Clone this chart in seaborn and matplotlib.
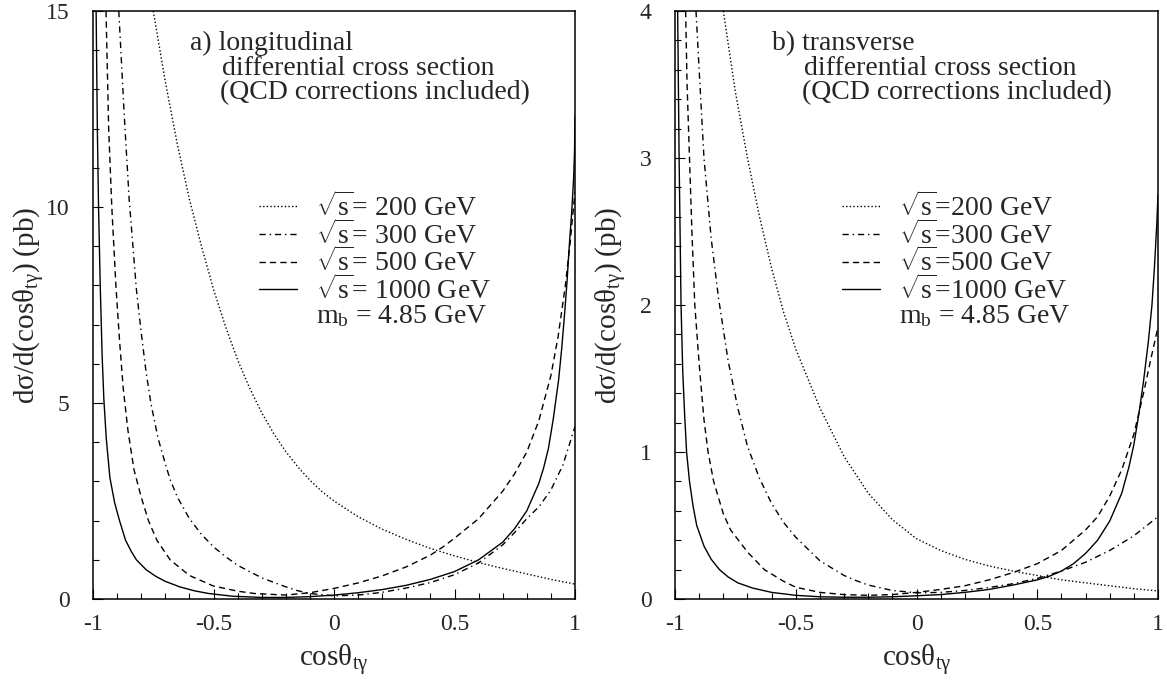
import numpy as np
import pandas as pd
import matplotlib
matplotlib.use("Agg")
import matplotlib.pyplot as plt
from matplotlib.ticker import MultipleLocator, FuncFormatter
from matplotlib.lines import Line2D
import seaborn as sns

sns.set_style("white")
plt.rcParams["font.family"] = ["Liberation Serif", "DejaVu Serif"]
plt.rcParams["mathtext.fontset"] = "custom"
plt.rcParams["mathtext.rm"] = "Liberation Serif"
plt.rcParams["mathtext.it"] = "Liberation Serif:italic"
plt.rcParams["mathtext.default"] = "rm"
plt.rcParams["axes.unicode_minus"] = False

# ---------------- data: panel a) longitudinal ----------------
a200_x = [-0.75, -0.7, -0.65, -0.6, -0.55, -0.5, -0.45, -0.4, -0.35, -0.3, -0.25, -0.2,
          -0.15, -0.1, -0.05, 0.0, 0.1, 0.2, 0.3, 0.4, 0.5, 0.6, 0.7, 0.8, 0.9, 1.0]
a200_y = [15.0, 13.2, 11.6, 10.2, 9.0, 7.9, 6.95, 6.1, 5.38, 4.75, 4.22, 3.76,
          3.37, 3.03, 2.74, 2.5, 2.1, 1.78, 1.52, 1.29, 1.1, 0.93, 0.78, 0.64, 0.5, 0.38]

a300_x = [-0.893, -0.87, -0.85, -0.82, -0.8, -0.78, -0.76, -0.73, -0.7, -0.68, -0.65, -0.6,
          -0.55, -0.5, -0.45, -0.4, -0.3, -0.2, -0.15, -0.1, 0.0, 0.1, 0.2, 0.3, 0.4, 0.5,
          0.6, 0.7, 0.75, 0.8, 0.85, 0.9, 0.95, 1.0]
a300_y = [15.0, 12.3, 10.2, 7.9, 6.8, 5.8, 5.0, 4.1, 3.45, 3.05, 2.6, 2.05,
          1.65, 1.33, 1.08, 0.86, 0.54, 0.31, 0.21, 0.14, 0.08, 0.1, 0.17, 0.28, 0.42, 0.62,
          0.92, 1.38, 1.7, 2.05, 2.35, 2.78, 3.42, 4.4]

a500_x = [-0.946, -0.935, -0.922, -0.905, -0.89, -0.875, -0.855, -0.83, -0.8, -0.77, -0.735,
          -0.68, -0.6, -0.5, -0.4, -0.33, -0.2, -0.1, 0.0, 0.1, 0.2, 0.3, 0.4, 0.45, 0.5, 0.6,
          0.7, 0.75, 0.8, 0.85, 0.9, 0.93, 0.96, 0.98, 1.0]
a500_y = [15.0, 12.0, 10.0, 8.0, 6.6, 5.4, 4.3, 3.3, 2.6, 2.0, 1.5,
          1.0, 0.6, 0.33, 0.2, 0.14, 0.1, 0.16, 0.27, 0.41, 0.59, 0.82, 1.12, 1.32, 1.55, 2.05,
          2.75, 3.2, 3.75, 4.55, 5.7, 6.7, 8.0, 9.1, 10.4]

a1000_x = [-0.987, -0.982, -0.977, -0.97, -0.962, -0.955, -0.945, -0.93, -0.91, -0.89, -0.865,
           -0.84, -0.82, -0.78, -0.74, -0.7, -0.64, -0.58, -0.52, -0.42, -0.3, -0.2, -0.1, 0.0,
           0.1, 0.2, 0.3, 0.4, 0.5, 0.6, 0.7, 0.75, 0.8, 0.85, 0.87, 0.89, 0.91, 0.932, 0.945,
           0.957, 0.967, 0.976, 0.986, 0.994, 0.998, 1.0]
a1000_y = [15.0, 12.0, 10.0, 8.0, 6.2, 5.1, 4.1, 3.1, 2.45, 2.0, 1.5,
           1.2, 1.0, 0.75, 0.58, 0.45, 0.31, 0.21, 0.14, 0.07, 0.04, 0.04, 0.06, 0.1,
           0.16, 0.24, 0.35, 0.5, 0.7, 1.0, 1.45, 1.8, 2.25, 2.95, 3.35, 3.85, 4.6, 5.59, 6.4,
           7.29, 8.1, 8.99, 9.85, 10.69, 11.4, 12.3]

# ---------------- data: panel b) transverse ----------------
b200_x = [-0.8, -0.75, -0.7, -0.65, -0.6, -0.55, -0.5, -0.4, -0.3, -0.2, -0.1, 0.0,
          0.1, 0.2, 0.3, 0.4, 0.5, 0.6, 0.7, 0.8, 0.9, 1.0]
b200_y = [4.0, 3.45, 3.0, 2.6, 2.25, 1.95, 1.7, 1.3, 0.97, 0.72, 0.54, 0.41,
          0.33, 0.27, 0.225, 0.19, 0.16, 0.13, 0.11, 0.09, 0.07, 0.055]

b300_x = [-0.913, -0.9, -0.88, -0.85, -0.82, -0.78, -0.74, -0.7, -0.65, -0.6, -0.55, -0.5,
          -0.4, -0.3, -0.25, -0.2, -0.1, 0.0, 0.1, 0.2, 0.3, 0.4, 0.5, 0.6, 0.7, 0.8, 0.9, 1.0]
b300_y = [4.0, 3.6, 3.0, 2.45, 2.05, 1.62, 1.3, 1.04, 0.82, 0.65, 0.52, 0.42,
          0.26, 0.16, 0.125, 0.095, 0.058, 0.042, 0.045, 0.058, 0.078, 0.104, 0.14, 0.19, 0.25, 0.33, 0.43, 0.56]

b500_x = [-0.956, -0.95, -0.94, -0.93, -0.918, -0.9, -0.88, -0.863, -0.84, -0.8, -0.77, -0.7,
          -0.63, -0.55, -0.5, -0.4, -0.3, -0.2, -0.1, 0.0, 0.1, 0.2, 0.3, 0.4, 0.5, 0.6, 0.7,
          0.75, 0.8, 0.85, 0.9, 0.94, 0.97, 1.0]
b500_y = [4.0, 3.5, 3.0, 2.5, 2.0, 1.6, 1.22, 1.0, 0.8, 0.58, 0.47, 0.32,
          0.2, 0.12, 0.08, 0.045, 0.03, 0.025, 0.03, 0.045, 0.065, 0.09, 0.13, 0.18, 0.24, 0.33, 0.47,
          0.56, 0.7, 0.88, 1.12, 1.4, 1.63, 1.85]

b1000_x = [-0.989, -0.986, -0.983, -0.979, -0.975, -0.968, -0.96, -0.952, -0.94, -0.925, -0.91,
           -0.88, -0.85, -0.816, -0.78, -0.74, -0.68, -0.6, -0.5, -0.4, -0.3, -0.2, -0.1, 0.0,
           0.1, 0.2, 0.3, 0.4, 0.5, 0.55, 0.6, 0.65, 0.7, 0.75, 0.8, 0.85, 0.88, 0.9, 0.92,
           0.94, 0.96, 0.975, 0.985, 0.995, 1.0]
b1000_y = [4.0, 3.5, 3.0, 2.5, 2.0, 1.55, 1.25, 1.0, 0.8, 0.63, 0.5,
           0.36, 0.27, 0.2, 0.15, 0.11, 0.075, 0.045, 0.025, 0.015, 0.012, 0.012, 0.015, 0.022,
           0.03, 0.045, 0.065, 0.095, 0.13, 0.155, 0.19, 0.24, 0.31, 0.4, 0.53, 0.72, 0.9, 1.05, 1.25,
           1.48, 1.75, 2.0, 2.25, 2.55, 2.75]

labels_a = [r"$\sqrt{s}$= 200 GeV", r"$\sqrt{s}$= 300 GeV", r"$\sqrt{s}$= 500 GeV", r"$\sqrt{s}$= 1000 GeV"]
labels_b = [r"$\sqrt{s}$=200 GeV", r"$\sqrt{s}$=300 GeV", r"$\sqrt{s}$=500 GeV", r"$\sqrt{s}$=1000 GeV"]
mass_label = r"$\mathrm{m_b}$ = 4.85 GeV"
title_a = ["a) longitudinal", "differential cross section", "(QCD corrections included)"]
title_b = ["b) transverse", "differential cross section", "(QCD corrections included)"]
x_label = r"cos$\theta_{\mathrm{t}\gamma}$"
y_label = r"d$\sigma$/d(cos$\theta_{\mathrm{t}\gamma}$) (pb)"

series_a = [(a200_x, a200_y), (a300_x, a300_y), (a500_x, a500_y), (a1000_x, a1000_y)]
series_b = [(b200_x, b200_y), (b300_x, b300_y), (b500_x, b500_y), (b1000_x, b1000_y)]

dash_styles = [(0, (1.0, 1.6)), (0, (4.5, 2.8, 1.0, 2.8)), (0, (4.5, 3.0)), "-"]

FS_TXT = 20
FS_LAB = 21
FS_TICK = 17

fig = plt.figure(figsize=(11.67, 6.86), dpi=100)
ax_a = fig.add_axes([93 / 1167, 87 / 686, 482 / 1167, 588 / 686])
ax_b = fig.add_axes([675 / 1167, 87 / 686, 483 / 1167, 588 / 686])


def fmt(v, pos):
    return "%g" % v


def draw(ax, series, labels, title, ymax, ymajor, yminor):
    handles = []
    for (xs, ys), lab, ls in zip(series, labels, dash_styles):
        df = pd.DataFrame({"x": xs, "y": ys})
        sns.lineplot(data=df, x="x", y="y", ax=ax, color="black", lw=1.0,
                     linestyle=ls, sort=False, estimator=None)
        handles.append(Line2D([], [], color="black", lw=1.0, linestyle=ls, label=lab))
    handles.append(Line2D([], [], color="none", lw=0, label=mass_label))
    ax.set_xlim(-1, 1)
    ax.set_ylim(0, ymax)
    ax.xaxis.set_major_locator(MultipleLocator(0.5))
    ax.xaxis.set_minor_locator(MultipleLocator(0.1))
    ax.yaxis.set_major_locator(MultipleLocator(ymajor))
    ax.yaxis.set_minor_locator(MultipleLocator(yminor))
    ax.xaxis.set_major_formatter(FuncFormatter(fmt))
    ax.yaxis.set_major_formatter(FuncFormatter(fmt))
    ax.tick_params(which="both", direction="in", top=False, right=False,
                   bottom=True, left=True, width=0.8, color="black")
    ax.tick_params(which="major", length=7.5, labelsize=FS_TICK)
    ax.tick_params(axis="x", which="major", pad=11)
    ax.tick_params(axis="y", which="major", pad=17)
    ax.tick_params(which="minor", length=4.5)
    for sp in ax.spines.values():
        sp.set_linewidth(1.1)
        sp.set_color("black")
    ax.set_xlabel(x_label, fontsize=FS_LAB)
    ax.set_ylabel(y_label, fontsize=FS_LAB)
    ax.xaxis.set_label_coords(0.5, -0.075)
    ax.yaxis.set_label_coords(-0.095, 0.5)
    ax.text(0.201, 0.934, title[0], transform=ax.transAxes, fontsize=FS_TXT, va="baseline")
    ax.text(0.268, 0.891, title[1], transform=ax.transAxes, fontsize=FS_TXT, va="baseline")
    ax.text(0.263, 0.850, title[2], transform=ax.transAxes, fontsize=FS_TXT, va="baseline")
    ax.legend(handles=handles, loc="upper left", bbox_to_anchor=(0.345, 0.692),
              frameon=False, fontsize=FS_TXT, handlelength=1.37, handletextpad=0.68,
              labelspacing=-0.075, borderpad=0.0, borderaxespad=0.0)


draw(ax_a, series_a, labels_a, title_a, 15, 5, 1)
draw(ax_b, series_b, labels_b, title_b, 4, 1, 0.2)

fig.savefig("out.png", dpi=100)
